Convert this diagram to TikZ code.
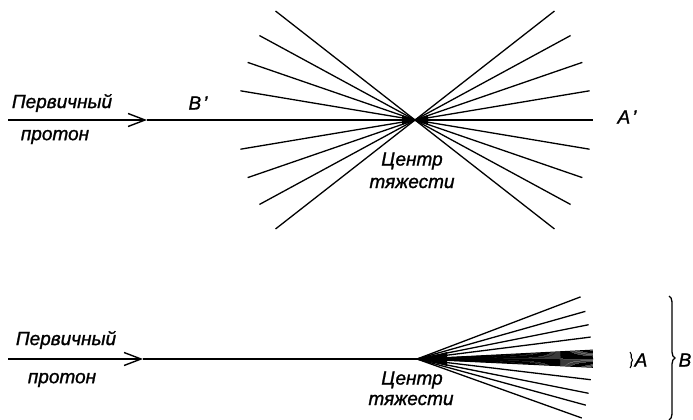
\documentclass[tikz,border=0pt]{standalone}
\usepackage{fontspec}
\setmainfont{Liberation Sans}[ItalicFeatures={FakeBold=1.2}]
\usetikzlibrary{arrows.meta,decorations.pathreplacing}
\begin{document}
\begin{tikzpicture}[x=1pt,y=-1pt,
  lbl/.style={font=\fontsize{19}{22}\selectfont\itshape, inner sep=0pt, anchor=center},
  ray/.style={line width=1.3pt},
  beam/.style={line width=2pt},
  tip/.style={-{Straight Barb[length=17pt,width=13pt,line width=1.4pt]}}]
\useasboundingbox (0,0) rectangle (693,420);
% ---------- top diagram ----------
\coordinate (s1) at (8,120);
\coordinate (a1) at (147,120);
\coordinate (c1) at (415,120);
\coordinate (e1) at (593,120);
\draw[beam,tip] (s1) -- (a1);
\draw[beam] (a1) -- (c1) -- (e1);
\foreach \a in {9.5,19,28.5,38}{
  \draw[ray] (c1) -- ++(\a:177);
  \draw[ray] (c1) -- ++(-\a:177);
  \draw[ray] (c1) -- ++(180+\a:177);
  \draw[ray] (c1) -- ++(180-\a:177);
}
\fill[shift={(c1)}] (0,0) -- (-13,-5) -- (-13,5) -- cycle;
\fill[shift={(c1)}] (0,0) -- (13,-5) -- (13,5) -- cycle;
\node[lbl] (p1) at (62,103) {Первичный};
\node[lbl] (q1) at (55,137) {протон};
\node[lbl] (b1) at (198,103) {B\kern2pt'};
\node[lbl] (ap) at (627,117) {A\kern2pt'};
\node[lbl] (z1) at (412,161) {Центр};
\node[lbl] (t1) at (412,183) {тяжести};
% ---------- bottom diagram ----------
\coordinate (s2) at (8,359);
\coordinate (a2) at (143,359);
\coordinate (c2) at (417,359);
\draw[beam,tip] (s2) -- (a2);
\draw[beam] (a2) -- (c2);
\foreach \a in {-20.8,-15.8,-11.3,-7.2,6.8,11.3,15.3,19.7}{
  \draw[ray] (c2) -- ++(\a:175);
}
\foreach \a in {-2.9,-2.5,...,2.8}{
  \draw[line width=1pt] (c2) -- ++(\a:176);
}
\fill[shift={(c2)}] (-8,0) .. controls (10,-1) .. (30,-7) -- (30,7) .. controls (10,1) .. (-8,0) -- cycle;
\node[lbl] (p2) at (66,340) {Первичный};
\node[lbl] (q2) at (62,380) {протон};
\node[lbl] (z2) at (412,380) {Центр};
\node[lbl] (t2) at (411,400) {тяжести};
\coordinate (ba1) at (630,352);
\coordinate (ba2) at (630,368);
\draw[line width=1.1pt,decorate,decoration={brace,amplitude=2.5pt}] (ba1) -- (ba2);
\node[lbl] (A) at (641,360) {A};
\coordinate (bb1) at (669,296);
\coordinate (bb2) at (669,420);
\draw[line width=1.3pt,decorate,decoration={brace,amplitude=6pt}] (bb1) -- (bb2);
\node[lbl] (B) at (685,360) {B};
\end{tikzpicture}
\end{document}
